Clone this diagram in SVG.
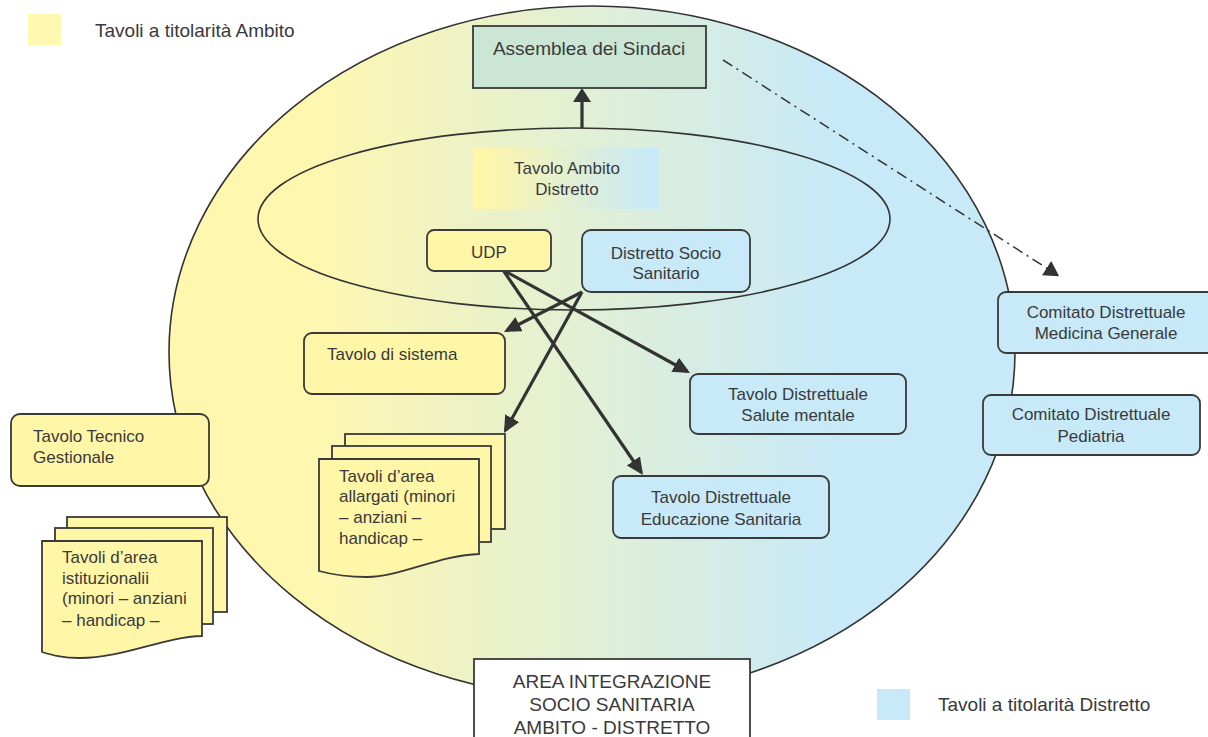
<svg xmlns="http://www.w3.org/2000/svg" width="1208" height="737" viewBox="0 0 1208 737">
<style>
text{font-family:"Liberation Sans",Arial,sans-serif;fill:#3a3a3a;font-size:17px}
.big{font-size:19px}
.c{text-anchor:middle}
.box{stroke:#3a3a3a;stroke-width:1.8}
.y{fill:#FFF6A8}
.b{fill:#C7E9F8}
.conn{stroke:#333;stroke-width:3.2;fill:none}
</style>
<defs>
<linearGradient id="gBig" gradientUnits="userSpaceOnUse" x1="300" y1="0" x2="840" y2="0">
<stop offset="0" stop-color="#FFF7AE"/>
<stop offset="1" stop-color="#C7E9F8"/>
</linearGradient>
<linearGradient id="gAmb" gradientUnits="userSpaceOnUse" x1="480" y1="0" x2="650" y2="0">
<stop offset="0" stop-color="#FFF6A8"/>
<stop offset="1" stop-color="#C7E9F8"/>
</linearGradient>
<marker id="ah" markerUnits="userSpaceOnUse" markerWidth="17" markerHeight="16" refX="14" refY="8" orient="auto">
<path d="M0,0 L17,8 L0,16 Z" fill="#333"/>
</marker>
<marker id="ahv" markerUnits="userSpaceOnUse" markerWidth="14" markerHeight="18" refX="11" refY="9" orient="auto">
<path d="M0,0 L14,9 L0,18 Z" fill="#333"/>
</marker>
<marker id="ahd" markerUnits="userSpaceOnUse" markerWidth="15" markerHeight="17" refX="13" refY="8.5" orient="auto">
<path d="M0,0 L15,8.5 L0,17 Z" fill="#333"/>
</marker>
</defs>

<g id="area-ellipse">
<ellipse cx="592" cy="352" rx="423" ry="346" fill="url(#gBig)" stroke="#333" stroke-width="1.6"/>
</g>
<g id="ambito-distretto-ellipse">
<ellipse cx="574" cy="219" rx="316" ry="91" fill="none" stroke="#333" stroke-width="1.6"/>
</g>

<g id="legend-ambito">
<rect x="28" y="14" width="33" height="31" fill="#FFF8B0"/>
<text class="big" x="95" y="37">Tavoli a titolarità Ambito</text>
</g>
<g id="legend-distretto">
<rect x="877" y="689" width="33" height="31" fill="#C7E9F8"/>
<text class="big" x="938" y="711">Tavoli a titolarità Distretto</text>
</g>

<g id="connectors">
<line class="conn" x1="582" y1="128" x2="582" y2="91" stroke-width="4" marker-end="url(#ahv)"/>
<line class="conn" x1="503" y1="270" x2="687.4" y2="371.5" marker-end="url(#ah)"/>
<line class="conn" x1="503" y1="270" x2="641.3" y2="472.5" marker-end="url(#ah)"/>
<line class="conn" x1="582" y1="292" x2="506.6" y2="330.6" marker-end="url(#ah)"/>
<line class="conn" x1="582" y1="292" x2="505.4" y2="430.4" marker-end="url(#ah)"/>
<line x1="723" y1="60" x2="1057.5" y2="275.1" stroke="#333" stroke-width="1.5" stroke-dasharray="11 5 2 5" fill="none" marker-end="url(#ahd)"/>
</g>

<g id="assemblea">
<rect class="box" x="473" y="26" width="233" height="62" fill="#CCE6D6"/>
<text class="big c" x="589" y="55">Assemblea dei Sindaci</text>
</g>

<g id="tavolo-ambito">
<rect x="473" y="148" width="186" height="61" fill="url(#gAmb)"/>
<text class="c" x="567" y="174">Tavolo Ambito</text>
<text class="c" x="567" y="195">Distretto</text>
</g>

<g id="udp">
<rect class="box y" x="427" y="230" width="124" height="41" rx="7"/>
<text class="c" x="489" y="258">UDP</text>
</g>

<g id="distretto">
<rect class="box b" x="582" y="230" width="168" height="62" rx="9"/>
<text class="c" x="666" y="259">Distretto Socio</text>
<text class="c" x="666" y="279">Sanitario</text>
</g>

<g id="tavolo-sistema">
<rect class="box y" x="304" y="333" width="201" height="61" rx="8"/>
<text x="327" y="360">Tavolo di sistema</text>
</g>

<g id="salute-mentale">
<rect class="box b" x="690" y="374" width="216" height="60" rx="8"/>
<text class="c" x="798" y="400">Tavolo Distrettuale</text>
<text class="c" x="798" y="421">Salute mentale</text>
</g>

<g id="educazione">
<rect class="box b" x="613" y="476" width="216" height="62" rx="8"/>
<text class="c" x="721" y="503">Tavolo Distrettuale</text>
<text class="c" x="721" y="525">Educazione Sanitaria</text>
</g>

<g id="medicina-generale">
<rect class="box b" x="998" y="292" width="220" height="61" rx="8"/>
<text class="c" x="1106" y="318">Comitato Distrettuale</text>
<text class="c" x="1106" y="339">Medicina Generale</text>
</g>

<g id="pediatria">
<rect class="box b" x="983" y="395" width="217" height="60" rx="8"/>
<text class="c" x="1091" y="420">Comitato Distrettuale</text>
<text class="c" x="1091" y="442">Pediatria</text>
</g>

<g id="tavolo-tecnico">
<rect class="box y" x="11" y="414" width="198" height="72" rx="9"/>
<text x="33" y="442">Tavolo Tecnico</text>
<text x="33" y="463">Gestionale</text>
</g>

<g id="tavoli-allargati">
<rect class="box y" x="345" y="434" width="160" height="95"/>
<rect class="box y" x="332" y="446" width="159" height="96"/>
<path class="box y" d="M319,459 H479 V554 C440,555 400,577 367,577 C345,577 330,574 319,571 Z"/>
<text x="339" y="482">Tavoli d’area</text>
<text x="339" y="502">allargati (minori</text>
<text x="339" y="523">– anziani –</text>
<text x="339" y="544">handicap –</text>
</g>

<g id="tavoli-istituzionali">
<rect class="box y" x="67" y="517" width="160" height="95"/>
<rect class="box y" x="55" y="528" width="158" height="96"/>
<path class="box y" d="M42,541 H202 V636 C163,637 123,658 80,658 C62,658 52,655 42,652 Z"/>
<text x="62" y="563">Tavoli d’area</text>
<text x="62" y="584">istituzionalii</text>
<text x="62" y="604">(minori – anziani</text>
<text x="62" y="626">– handicap –</text>
</g>

<g id="area-integrazione">
<rect class="box" x="474" y="659" width="276" height="90" fill="#fff"/>
<text class="big c" x="612" y="688">AREA INTEGRAZIONE</text>
<text class="big c" x="612" y="711">SOCIO SANITARIA</text>
<text class="big c" x="612" y="734">AMBITO - DISTRETTO</text>
</g>
</svg>
